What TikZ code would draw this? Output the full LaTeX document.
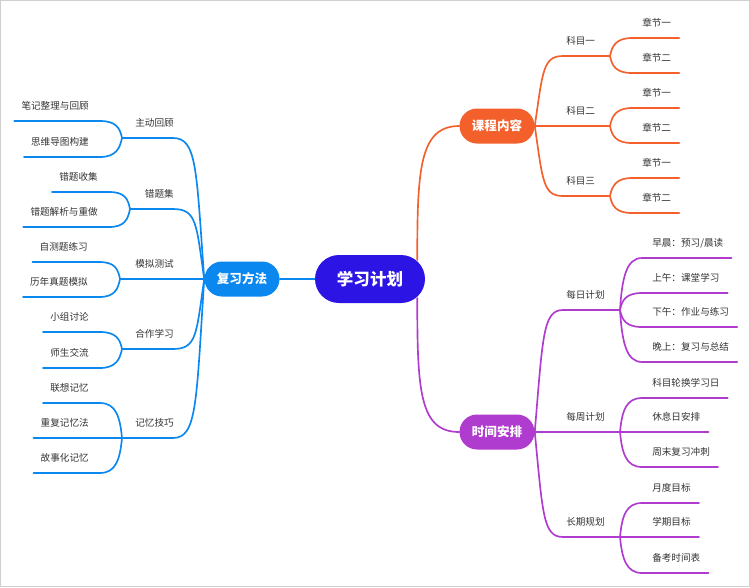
\documentclass[tikz,border=0pt]{standalone}
\usepackage{fontspec}
\setmainfont{Noto Sans CJK SC}
\usepackage{xcolor}
\usepackage{tikz}
\usetikzlibrary{shapes.misc}
\definecolor{R0}{HTML}{2C14E4}
\definecolor{B0}{HTML}{0B87F0}
\definecolor{O0}{HTML}{F4602C}
\definecolor{V0}{HTML}{B03BCF}
\definecolor{T0}{HTML}{333333}
\definecolor{F0}{HTML}{CFCFCF}

\tikzset{
  pill/.style={rounded rectangle, text=white, inner sep=0pt, minimum width=56.25pt, minimum height=26.25pt, font=\fontsize{9.4}{11}\selectfont\bfseries},
  rootpill/.style={pill, minimum width=82.5pt, minimum height=36pt, font=\fontsize{12.4}{14}\selectfont\bfseries},
  topic/.style={text=T0, inner sep=0pt, font=\fontsize{7.2}{9}\selectfont},
  lt/.style={topic, anchor=east},
  rt/.style={topic, anchor=west},
  link/.style={line width=1.25pt, line cap=round},
}

\begin{document}
\begin{tikzpicture}[x=0.75pt, y=-0.75pt]%
\useasboundingbox (0,0) rectangle (750,587);%
\draw[F0, line width=1pt] (0.5,0.5) rectangle (749.5,586.5);%
% centre and main branches
\node[rootpill, fill=R0] (root) at (370,279) {学习计划};%
\node[pill, fill=B0] (fx) at (242,279) {复习方法};%
\node[pill, fill=O0] (kc) at (497,126) {课程内容};%
\node[pill, fill=V0] (sj) at (497,432) {时间安排};%
\draw[link, B0] (fx.east) -- (root.west);%
\draw[link, O0] ([shift={(-8,-19)}]root.east) .. controls +(0,-90) and +(-40,0) .. (kc.west);%
\draw[link, V0] ([shift={(-8,19)}]root.east) .. controls +(0,92) and +(-40,0) .. (sj.west);%
% forks
\coordinate (k1f) at (610,56);%
\coordinate (k2f) at (610,126);%
\coordinate (k3f) at (610,196);%
\coordinate (s1f) at (620,310);%
\coordinate (s2f) at (620,432);%
\coordinate (s3f) at (620,537);%
\coordinate (f1f) at (122,138);%
\coordinate (f2f) at (130,209);%
\coordinate (f3f) at (120,279);%
\coordinate (f4f) at (122,349);%
\coordinate (f5f) at (122,438);%
% 课程内容
\node[rt] (k1) at (566,41) {科目一};%
\node[rt] (k2) at (566,111) {科目二};%
\node[rt] (k3) at (566,181) {科目三};%
\draw[link, O0] (kc.east) .. controls +(8,-55) and +(-20,0) .. ([shift={(-3,15)}]k1.west) -- (k1f);%
\draw[link, O0] (kc.east) -- (k2f);%
\draw[link, O0] (kc.east) .. controls +(8,55) and +(-20,0) .. ([shift={(-3,15)}]k3.west) -- (k3f);%
\node[rt] (c11) at (642,23) {章节一};%
\node[rt] (c12) at (642,58) {章节二};%
\node[rt] (c21) at (642,93) {章节一};%
\node[rt] (c22) at (642,128) {章节二};%
\node[rt] (c31) at (642,163) {章节一};%
\node[rt] (c32) at (642,198) {章节二};%
\draw[link, O0] (k1f) .. controls +(2,-10) and +(-16,0) .. ([shift={(-10,15)}]c11.west) -- ([shift={(8,15)}]c11.east);%
\draw[link, O0] (k1f) .. controls +(2,10) and +(-16,0) .. ([shift={(-10,15)}]c12.west) -- ([shift={(8,15)}]c12.east);%
\draw[link, O0] (k2f) .. controls +(2,-10) and +(-16,0) .. ([shift={(-10,15)}]c21.west) -- ([shift={(8,15)}]c21.east);%
\draw[link, O0] (k2f) .. controls +(2,10) and +(-16,0) .. ([shift={(-10,15)}]c22.west) -- ([shift={(8,15)}]c22.east);%
\draw[link, O0] (k3f) .. controls +(2,-10) and +(-16,0) .. ([shift={(-10,15)}]c31.west) -- ([shift={(8,15)}]c31.east);%
\draw[link, O0] (k3f) .. controls +(2,10) and +(-16,0) .. ([shift={(-10,15)}]c32.west) -- ([shift={(8,15)}]c32.east);%
% 时间安排
\node[rt] (s1) at (566,295) {每日计划};%
\node[rt] (s2) at (566,417) {每周计划};%
\node[rt] (s3) at (566,522) {长期规划};%
\draw[link, V0] (sj.east) .. controls +(8,-96) and +(-20,0) .. ([shift={(-3,15)}]s1.west) -- (s1f);%
\draw[link, V0] (sj.east) -- (s2f);%
\draw[link, V0] (sj.east) .. controls +(8,82) and +(-20,0) .. ([shift={(-3,15)}]s3.west) -- (s3f);%
\node[rt] (d1) at (652,243) {早晨：预习/晨读};%
\node[rt] (d2) at (652,278) {上午：课堂学习};%
\node[rt] (d3) at (652,312) {下午：作业与练习};%
\node[rt] (d4) at (652,347) {晚上：复习与总结};%
\draw[link, V0] (s1f) .. controls +(2,-31) and +(-16,0) .. ([shift={(-10,15)}]d1.west) -- ([shift={(8,15)}]d1.east);%
\draw[link, V0] (s1f) .. controls +(2,-10) and +(-16,0) .. ([shift={(-10,15)}]d2.west) -- ([shift={(8,15)}]d2.east);%
\draw[link, V0] (s1f) .. controls +(2,10) and +(-16,0) .. ([shift={(-10,15)}]d3.west) -- ([shift={(8,15)}]d3.east);%
\draw[link, V0] (s1f) .. controls +(2,31) and +(-16,0) .. ([shift={(-10,15)}]d4.west) -- ([shift={(8,15)}]d4.east);%
\node[rt] (w1) at (652,383) {科目轮换学习日};%
\node[rt] (w2) at (652,417) {休息日安排};%
\node[rt] (w3) at (652,452) {周末复习冲刺};%
\draw[link, V0] (s2f) .. controls +(2,-21) and +(-16,0) .. ([shift={(-10,15)}]w1.west) -- ([shift={(8,15)}]w1.east);%
\draw[link, V0] (s2f) -- ([shift={(8,15)}]w2.east);%
\draw[link, V0] (s2f) .. controls +(2,21) and +(-16,0) .. ([shift={(-10,15)}]w3.west) -- ([shift={(8,15)}]w3.east);%
\node[rt] (l1) at (652,488) {月度目标};%
\node[rt] (l2) at (652,522) {学期目标};%
\node[rt] (l3) at (652,558) {备考时间表};%
\draw[link, V0] (s3f) .. controls +(2,-21) and +(-16,0) .. ([shift={(-10,15)}]l1.west) -- ([shift={(8,15)}]l1.east);%
\draw[link, V0] (s3f) -- ([shift={(8,15)}]l2.east);%
\draw[link, V0] (s3f) .. controls +(2,21) and +(-16,0) .. ([shift={(-10,15)}]l3.west) -- ([shift={(8,15)}]l3.east);%
% 复习方法
\node[lt] (f1) at (174,123) {主动回顾};%
\node[lt] (f2) at (174,194) {错题集};%
\node[lt] (f3) at (174,264) {模拟测试};%
\node[lt] (f4) at (174,334) {合作学习};%
\node[lt] (f5) at (174,423) {记忆技巧};%
\draw[link, B0] (fx.west) .. controls +(-8,-110) and +(24,0) .. ([shift={(-1,15)}]f1.east) -- (f1f);%
\draw[link, B0] (fx.west) .. controls +(-8,-55) and +(24,0) .. ([shift={(-1,15)}]f2.east) -- (f2f);%
\draw[link, B0] (fx.west) -- (f3f);%
\draw[link, B0] (fx.west) .. controls +(-8,55) and +(24,0) .. ([shift={(-1,15)}]f4.east) -- (f4f);%
\draw[link, B0] (fx.west) .. controls +(-8,124) and +(24,0) .. ([shift={(-1,15)}]f5.east) -- (f5f);%
\node[lt] (a1) at (89,106) {笔记整理与回顾};%
\node[lt] (a2) at (89,142) {思维导图构建};%
\node[lt] (b1) at (98,177) {错题收集};%
\node[lt] (b2) at (98,212) {错题解析与重做};%
\node[lt] (m1) at (88,247) {自测题练习};%
\node[lt] (m2) at (88,282) {历年真题模拟};%
\node[lt] (h1) at (89,317) {小组讨论};%
\node[lt] (h2) at (89,353) {师生交流};%
\node[lt] (j1) at (89,388) {联想记忆};%
\node[lt] (j2) at (89,423) {重复记忆法};%
\node[lt] (j3) at (89,458) {故事化记忆};%
\draw[link, B0] (f1f) .. controls +(-2,-10) and +(16,0) .. ([shift={(11,15)}]a1.east) -- ([shift={(-7,15)}]a1.west);%
\draw[link, B0] (f1f) .. controls +(-2,10) and +(16,0) .. ([shift={(11,15)}]a2.east) -- ([shift={(-7,15)}]a2.west);%
\draw[link, B0] (f2f) .. controls +(-2,-10) and +(16,0) .. ([shift={(11,15)}]b1.east) -- ([shift={(-7,15)}]b1.west);%
\draw[link, B0] (f2f) .. controls +(-2,10) and +(16,0) .. ([shift={(11,15)}]b2.east) -- ([shift={(-7,15)}]b2.west);%
\draw[link, B0] (f3f) .. controls +(-2,-10) and +(16,0) .. ([shift={(11,15)}]m1.east) -- ([shift={(-7,15)}]m1.west);%
\draw[link, B0] (f3f) .. controls +(-2,10) and +(16,0) .. ([shift={(11,15)}]m2.east) -- ([shift={(-7,15)}]m2.west);%
\draw[link, B0] (f4f) .. controls +(-2,-10) and +(16,0) .. ([shift={(11,15)}]h1.east) -- ([shift={(-7,15)}]h1.west);%
\draw[link, B0] (f4f) .. controls +(-2,10) and +(16,0) .. ([shift={(11,15)}]h2.east) -- ([shift={(-7,15)}]h2.west);%
\draw[link, B0] (f5f) .. controls +(-2,-21) and +(16,0) .. ([shift={(11,15)}]j1.east) -- ([shift={(-7,15)}]j1.west);%
\draw[link, B0] (f5f) -- ([shift={(-7,15)}]j2.west);%
\draw[link, B0] (f5f) .. controls +(-2,21) and +(16,0) .. ([shift={(11,15)}]j3.east) -- ([shift={(-7,15)}]j3.west);%
\end{tikzpicture}
\end{document}
